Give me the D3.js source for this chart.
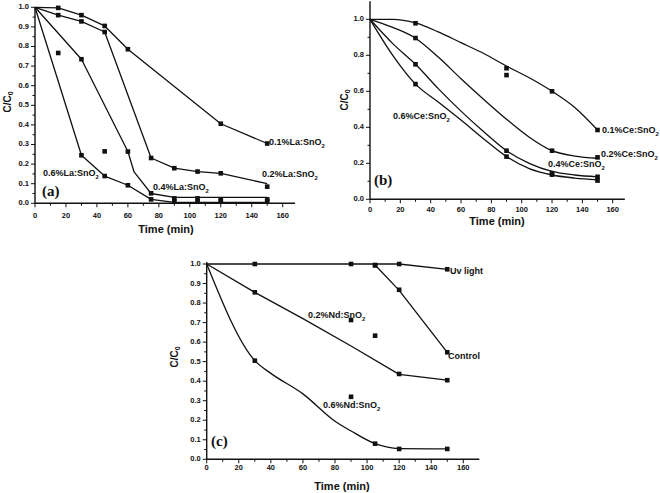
<!DOCTYPE html>
<html><head><meta charset="utf-8">
<script src="https://cdn.jsdelivr.net/npm/d3@7"></script>
<style>body{margin:0;background:#fff}svg{display:block}text{font-family:"Liberation Sans",Arial,sans-serif;font-weight:bold;fill:#111}</style>
</head><body>
<svg id="c" width="660" height="493"></svg>
<script>
// ---------- data ----------
const xTicks = [0,20,40,60,80,100,120,140,160];
const yTicksA = [0,0.1,0.2,0.3,0.4,0.5,0.6,0.7,0.8,0.9,1.0];
const yTicksB = [0,0.2,0.4,0.6,0.8,1.0];
const yTicksC = [0,0.1,0.2,0.3,0.4,0.5,0.6,0.7,0.8,0.9,1.0];

// panel (a) La:SnO2
const la01Pts = [[15,0.997],[30,0.96],[45,0.905],[60,0.786],[120,0.406],[150,0.305]];
const la01Line = [[0,1],[15,0.997],[30,0.96],[45,0.905],[60,0.786],[120,0.406],[150,0.305]];
const la02Pts = [[15,0.96],[30,0.928],[45,0.874],[75,0.231],[90,0.179],[105,0.162],[120,0.153],[150,0.085]];
const la02Line = [[0,1],[15,0.96],[30,0.928],[45,0.874],[75,0.231],[90,0.179],[105,0.162],[120,0.153],[150,0.10]];
const la04Pts = [[30,0.735],[45,0.265],[60,0.264],[75,0.051],[90,0.025],[105,0.025],[120,0.02],[150,0.02]];
const la04Line = [[0,1],[30,0.735],[60,0.264],[64,0.16],[75,0.05],[90,0.03],[150,0.03]];
const la06Pts = [[15,0.767],[30,0.245],[45,0.139],[60,0.092],[75,0.02],[90,0.01],[105,0.01],[120,0.01],[150,0.01]];
const la06Line = [[0,1],[30,0.245],[45,0.139],[60,0.092],[75,0.02],[90,0.005],[150,0.005]];

// panel (b) Ce:SnO2
const ce01Pts = [[30,0.978],[90,0.728],[90,0.69],[120,0.6],[150,0.385]];
const ce01Line = [[0,1],[15,1.0],[30,0.98],[45,0.93],[60,0.87],[75,0.81],[90,0.74],[105,0.675],[120,0.60],[135,0.51],[150,0.385]];
const ce02Pts = [[30,0.896],[120,0.27],[150,0.233]];
const ce02Line = [[0,1],[15,0.955],[30,0.895],[45,0.79],[60,0.67],[75,0.555],[90,0.445],[105,0.345],[120,0.27],[135,0.24],[150,0.228]];
const ce04Pts = [[30,0.75],[90,0.27],[120,0.145],[150,0.125]];
const ce04Line = [[0,1],[15,0.865],[30,0.75],[45,0.615],[60,0.49],[75,0.375],[90,0.27],[105,0.2],[120,0.155],[135,0.135],[150,0.125]];
const ce06Pts = [[30,0.64],[90,0.237],[120,0.137],[150,0.104]];
const ce06Line = [[0,1],[15,0.8],[30,0.64],[45,0.54],[60,0.44],[75,0.335],[90,0.237],[105,0.17],[120,0.135],[135,0.118],[150,0.108]];

// panel (c) Nd:SnO2
const uvPts = [[30,1.0],[90,1.0],[105,0.995],[120,1.0],[150,0.973]];
const uvLine = [[0,1],[120,1.0],[150,0.973]];
const ctrlPts = [[105,0.993],[120,0.868],[150,0.548]];
const ctrlLine = [[105,0.995],[120,0.865],[150,0.548]];
const nd02Pts = [[30,0.855],[90,0.713],[105,0.633],[120,0.437],[150,0.405]];
const nd02Line = [[0,1],[30,0.855],[60,0.72],[90,0.58],[120,0.435],[150,0.405]];
const nd06Pts = [[30,0.505],[90,0.32],[105,0.08],[120,0.053],[150,0.053]];
const nd06Line = [[0,1],[30,0.505],[40,0.44],[60,0.335],[80,0.195],[90,0.145],[105,0.08],[120,0.055],[150,0.053]];

// ---------- drawing ----------
const svg = d3.select("#c");

function subText(g, x, y, parts, size, anchor) {
  const t = g.append("text").attr("x", x).attr("y", y).attr("font-size", size)
    .attr("dominant-baseline", "middle").attr("text-anchor", anchor || "start");
  parts.forEach(p => {
    if (p.sub) t.append("tspan").attr("font-size", size * 0.65).attr("dy", size*0.3).text(p.t);
    else t.append("tspan").attr("dy", p.after ? -size*0.3 : 0).text(p.t);
  });
  return t;
}

function panel(cfg) {
  const x = d3.scaleLinear().domain([0,160]).range(cfg.xr);
  const y = d3.scaleLinear().domain([0,1]).range(cfg.yr);
  const g = svg.append("g");
  const x0 = x(0), y0 = y(0);
  // axes lines
  g.append("line").attr("x1", x0).attr("x2", x(cfg.xMaxAxis)).attr("y1", y0).attr("y2", y0)
    .attr("stroke", "#111").attr("stroke-width", 1.4);
  g.append("line").attr("x1", x0).attr("x2", x0).attr("y1", y0).attr("y2", y(cfg.yMaxAxis))
    .attr("stroke", "#111").attr("stroke-width", 1.4);
  // x ticks
  d3.range(0, 170, 10).forEach(v => {
    const major = v % 20 === 0;
    g.append("line").attr("x1", x(v)).attr("x2", x(v)).attr("y1", y0).attr("y2", y0 + (major ? 4 : 2.5))
      .attr("stroke", "#111").attr("stroke-width", 1);
  });
  xTicks.forEach(v => {
    g.append("text").attr("x", x(v)).attr("y", y0 + cfg.xLabOff).attr("font-size", 7.5)
      .attr("text-anchor", "middle").attr("dominant-baseline", "middle").text(v);
  });
  // y ticks
  const step = cfg.yTicks[1] - cfg.yTicks[0];
  d3.range(0, 1.0001 + 1e-9, step / 2).forEach((v, i) => {
    const major = i % 2 === 0;
    g.append("line").attr("x1", x0).attr("x2", x0 - (major ? 4 : 2.5)).attr("y1", y(v)).attr("y2", y(v))
      .attr("stroke", "#111").attr("stroke-width", 1);
  });
  cfg.yTicks.forEach(v => {
    g.append("text").attr("x", x0 - 6).attr("y", y(v)).attr("font-size", 7.5)
      .attr("text-anchor", "end").attr("dominant-baseline", "middle").text(v.toFixed(1));
  });
  // axis titles
  g.append("text").attr("x", cfg.xTitle[0]).attr("y", cfg.xTitle[1]).attr("font-size", 11)
    .attr("text-anchor", "middle").attr("dominant-baseline", "middle").text("Time (min)");
  const yt = g.append("text").attr("transform", `translate(${cfg.yTitle[0]},${cfg.yTitle[1]}) rotate(-90)`)
    .attr("font-size", 10).attr("text-anchor", "middle").attr("dominant-baseline", "middle");
  yt.append("tspan").text("C/C");
  yt.append("tspan").attr("font-size", 7).attr("dy", 3).text("0");
  // panel letter
  g.append("text").attr("x", cfg.letter[0]).attr("y", cfg.letter[1]).attr("font-size", 15)
    .attr("font-family", "'Liberation Serif','Times New Roman',serif").style("font-family","'Liberation Serif','Times New Roman',serif")
    .attr("dominant-baseline", "middle").text(cfg.letter[2]);
  // series
  cfg.series.forEach(s => {
    const line = d3.line().x(d => x(d[0])).y(d => y(d[1])).curve(s.smooth ? d3.curveMonotoneX : d3.curveLinear);
    g.append("path").attr("d", line(s.line)).attr("fill", "none").attr("stroke", "#111")
      .attr("stroke-width", 1.3).attr("stroke-linejoin", "round");
    g.selectAll(null).data(s.pts).enter().append("rect")
      .attr("x", d => x(d[0]) - 2.3).attr("y", d => y(d[1]) - 2.3)
      .attr("width", 4.6).attr("height", 4.6).attr("fill", "#111");
    if (s.label) {
      const parts = s.label.sub
        ? [{t: s.label.t}, {t: "2", sub: true}]
        : [{t: s.label.t}];
      subText(g, s.label.x, s.label.y, parts, 9);
    }
  });
}

panel({
  xr: [35, 282.7], yr: [203.3, 7.3], xMaxAxis: 168, yMaxAxis: 1.0, yTicks: yTicksA, xLabOff: 13,
  xTitle: [166, 230], yTitle: [8, 102], letter: [42, 193, "(a)"],
  series: [
    {pts: la01Pts, line: la01Line, label: {t: "0.1%La:SnO", sub: true, x: 269, y: 143}},
    {pts: la02Pts, line: la02Line, label: {t: "0.2%La:SnO", sub: true, x: 262, y: 175}},
    {pts: la04Pts, line: la04Line, label: {t: "0.4%La:SnO", sub: true, x: 153, y: 188}},
    {pts: la06Pts, line: la06Line, label: {t: "0.6%La:SnO", sub: true, x: 43, y: 174}}
  ]
});

panel({
  xr: [370, 612.7], yr: [199.3, 19.3], xMaxAxis: 168, yMaxAxis: 1.1, yTicks: yTicksB, xLabOff: 11,
  xTitle: [497, 222], yTitle: [345, 100], letter: [374, 182, "(b)"],
  series: [
    {pts: ce01Pts, line: ce01Line, smooth: true, label: {t: "0.1%Ce:SnO", sub: true, x: 602, y: 131}},
    {pts: ce02Pts, line: ce02Line, smooth: true, label: {t: "0.2%Ce:SnO", sub: true, x: 601, y: 155}},
    {pts: ce04Pts, line: ce04Line, smooth: true, label: {t: "0.4%Ce:SnO", sub: true, x: 548, y: 165}},
    {pts: ce06Pts, line: ce06Line, smooth: true, label: {t: "0.6%Ce:SnO", sub: true, x: 393, y: 117}}
  ]
});

panel({
  xr: [206.7, 463.3], yr: [459.3, 264], xMaxAxis: 170, yMaxAxis: 1.01, yTicks: yTicksC, xLabOff: 9,
  xTitle: [342, 487], yTitle: [175, 357], letter: [211, 443, "(c)"],
  series: [
    {pts: uvPts, line: uvLine, label: {t: "Uv light", sub: false, x: 450, y: 272}},
    {pts: ctrlPts, line: ctrlLine, label: {t: "Control", sub: false, x: 448, y: 357}},
    {pts: nd02Pts, line: nd02Line, label: {t: "0.2%Nd:SnO", sub: true, x: 308, y: 316}},
    {pts: nd06Pts, line: nd06Line, smooth: true, label: {t: "0.6%Nd:SnO", sub: true, x: 323, y: 406}}
  ]
});
</script>
</body></html>
